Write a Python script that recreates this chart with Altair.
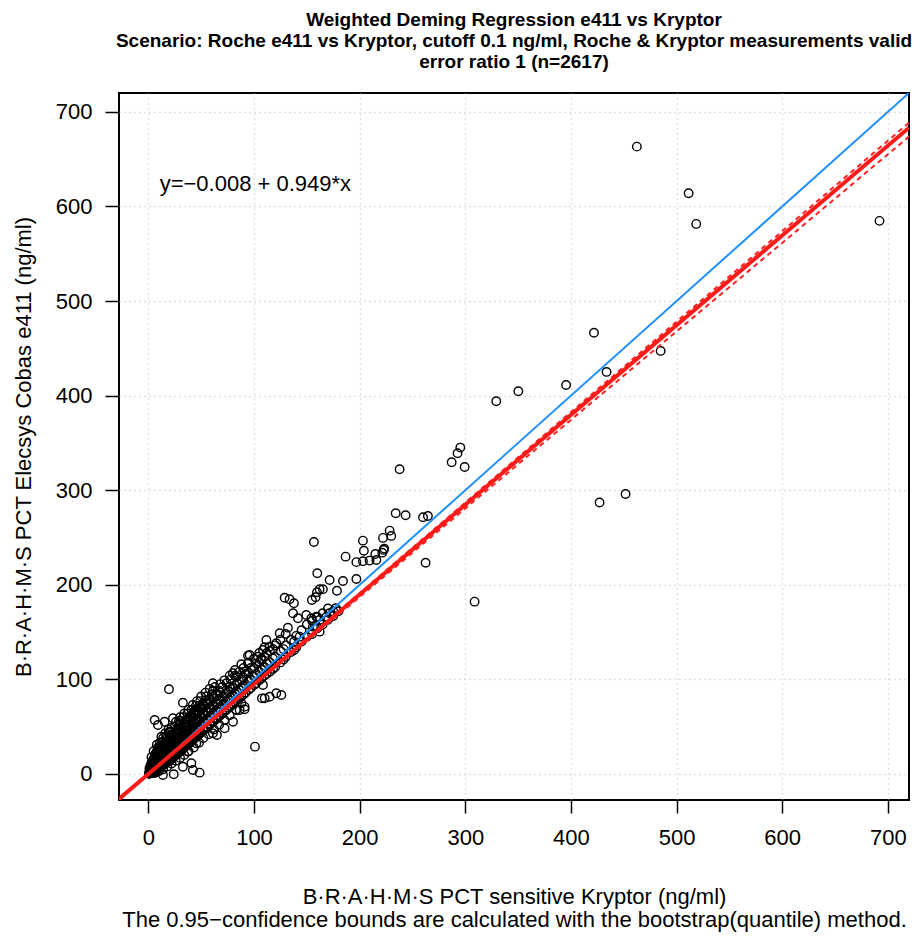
import altair as alt
import pandas as pd

# ---- data ----
title_lines = [
    "Weighted Deming Regression e411 vs Kryptor",
    "Scenario: Roche e411 vs Kryptor, cutoff 0.1 ng/ml, Roche & Kryptor measurements valid",
    "error ratio 1 (n=2617)",
]
x_title = [
    "B·R·A·H·M·S PCT sensitive Kryptor (ng/ml)",
    "The 0.95−confidence bounds are calculated with the bootstrap(quantile) method.",
]
y_title = "B·R·A·H·M·S PCT Elecsys Cobas e411 (ng/ml)"
equation_label = "y=−0.008 + 0.949*x"
tick_values = [0, 100, 200, 300, 400, 500, 600, 700]
axis_domain = [-27.8, 720.0]
y_axis_domain = [-27.5, 720.0]

# regression (intercept, slope)
identity_line = (0.0, 1.0)
fit_line = (-0.008, 0.949)
ci_upper = (0.0, 0.9565)
ci_lower = (-0.02, 0.936)

outlier_points = [
    (462.4, 663.3), (511.4, 614), (518.6, 581.6), (692.1, 584.8),
    (421.8, 466.5), (484.9, 447.3), (433.7, 425.1), (395.4, 411.3), (350.2, 404.7), (329.3, 394.1),
    (237.8, 322.2), (295.3, 345.1), (292.7, 339.1), (287.1, 329.6), (299.4, 324.6),
    (451.7, 296.1), (427.1, 287.1),
    (234.1, 275.7), (243.5, 273.5), (260, 271.4), (264.6, 272.8),
    (228.4, 257.3), (222.1, 249.6), (229.9, 251.7), (223.3, 238.3), (221.4, 234),
    (262.4, 223.4), (308.8, 182.2),
    (156.7, 245.3), (203.1, 246.7), (204, 236.1), (186.7, 229.8),
    (196.9, 224), (203.1, 225), (209.4, 225.6), (215.8, 226.3),
    (214.8, 232.6), (222.7, 236.9), (159.9, 212.2),
    (171.6, 205.1), (184.2, 204.1), (196.9, 206.2),
    (162.1, 195.3), (165.2, 195.3), (159.6, 192.1), (178.5, 193.8),
    (129, 186.4), (133.7, 184.7), (137.8, 180.5), (154.8, 184), (158.3, 186.8),
    (177.3, 175.2), (171.6, 169.9), (168.5, 166.3),
    (136.9, 169.9), (141.6, 164.6), (149.5, 168.1), (154.3, 164.6), (159, 166.3), (162.1, 162.8),
    (132.1, 154.7), (143.2, 145.2), (162.1, 150.5), (155.8, 155.8), (159, 156.5),
    (124.3, 148.8), (121.1, 138.2), (114.8, 134.6), (111.7, 141.7), (108.5, 131.1),
    (103.7, 124), (106.9, 120.5), (95.9, 125.8), (94.3, 117.1), (91.1, 108.2),
    (108.5, 94.1), (114.8, 81.7), (125.9, 83.5), (107.5, 80),
    (88, 74.8), (91.1, 68.4), (83.3, 67.7),
    (80, 106.5), (83.3, 102.9), (76.9, 92.3),
    (19.5, 89.6), (32.7, 75.4), (48.5, 1.4), (24, -0.3), (100.9, 28.9), (94.3, 125.1), (61.1, 95.9),
    (110.1, 80), (121.1, 85.3),
    (86.4, 67.7), (91.1, 71.2), (80.1, 55.3), (72.2, 48.3), (64.9, 41.2), (61.1, 43),
    (6, 57.1), (15.4, 55.3), (9.1, 51.8), (12.3, 39.4), (23.3, 58.9), (29.6, 53.6), (20.1, 44.7),
    (1.2, 0.7), (7.5, 2.4), (13.8, -1),
    (37.5, 23.6), (45.4, 32.5), (40.7, 11.3), (32.7, 7.7), (42.2, 4.2),
]

cluster_points = [
    (1, 0.5), (1, 3), (1, 6),
    (3, 1), (3, 4), (3, 8), (3, 12),
    (5, 3), (5, 7), (5, 11), (5, 16),
    (7, 4), (7, 9), (7, 14), (7, 20),
    (9, 6), (9, 11), (9, 16), (9, 22), (9, 28),
    (11, 7), (11, 13), (11, 19), (11, 25),
    (13, 9), (13, 15), (13, 21), (13, 28), (13, 34),
    (15, 10), (15, 17), (15, 23), (15, 30),
    (17, 12), (17, 19), (17, 26), (17, 33), (17, 40),
    (19, 14), (19, 21), (19, 28), (19, 35),
    (21, 15), (21, 22), (21, 30), (21, 37), (21, 44),
    (23, 17), (23, 24), (23, 32), (23, 40),
    (25, 19), (25, 27), (25, 35), (25, 43), (25, 50),
    (27, 21), (27, 29), (27, 37), (27, 45),
    (29, 23), (29, 31), (29, 39), (29, 48), (29, 56),
    (31, 25), (31, 33), (31, 41), (31, 50),
    (33, 27), (33, 35), (33, 44), (33, 53), (33, 60),
    (35, 29), (35, 37), (35, 46), (35, 55),
    (37, 31), (37, 40), (37, 49), (37, 58), (37, 64),
    (39, 33), (39, 42), (39, 51), (39, 60),
    (41, 35), (41, 44), (41, 53), (41, 62), (41, 68),
    (43, 37), (43, 46), (43, 55), (43, 64),
    (45, 39), (45, 48), (45, 57), (45, 66), (45, 72),
    (47, 41), (47, 50), (47, 59), (47, 68),
    (49, 43), (49, 52), (49, 61), (49, 70), (49, 77),
    (52, 46), (52, 55), (52, 64), (52, 73),
    (55, 49), (55, 58), (55, 67), (55, 76), (55, 82),
    (58, 52), (58, 61), (58, 70), (58, 79),
    (61, 55), (61, 64), (61, 73), (61, 82), (61, 88),
    (64, 58), (64, 67), (64, 76), (64, 85),
    (67, 61), (67, 70), (67, 79), (67, 88),
    (70, 64), (70, 73), (70, 82), (70, 92),
    (74, 68), (74, 77), (74, 86), (74, 96),
    (78, 72), (78, 81), (78, 90), (78, 100),
    (82, 76), (82, 85), (82, 94), (82, 104),
    (86, 80), (86, 89), (86, 98), (86, 108),
    (90, 84), (90, 93), (90, 102), (90, 112),
    (95, 89), (95, 98), (95, 107), (95, 118),
    (100, 94), (100, 103), (100, 112), (100, 122),
    (105, 99), (105, 108), (105, 118), (105, 128),
    (110, 104), (110, 113), (110, 124), (110, 134),
    (115, 108), (115, 118), (115, 130),
    (120, 113), (120, 124), (120, 136),
    (125, 118), (125, 130), (125, 142),
    (130, 124), (130, 136), (130, 148),
    (135, 129), (135, 142), (140, 134), (140, 146),
    (145, 140), (145, 152), (150, 145), (150, 158),
    (160, 154), (160, 166), (170, 163), (170, 175), (180, 172),
]

cluster_fill_points = [
    (2, 2), (2, 5), (2, 9), (4, 3), (4, 6), (4, 10), (4, 14), (6, 4), (6, 8), (6, 12), (6, 17),
    (8, 6), (8, 10), (8, 14), (8, 19), (8, 24), (10, 7), (10, 12), (10, 17), (10, 22),
    (12, 8), (12, 13), (12, 18), (12, 24), (12, 30), (14, 10), (14, 15), (14, 20), (14, 26),
    (16, 11), (16, 17), (16, 22), (16, 29), (18, 13), (18, 18), (18, 24), (18, 31),
    (20, 14), (20, 20), (20, 26), (20, 33), (22, 16), (22, 22), (22, 28), (22, 35),
    (24, 18), (24, 24), (24, 31), (24, 38), (26, 20), (26, 26), (26, 33), (26, 40),
    (28, 22), (28, 28), (28, 35), (28, 43), (30, 24), (30, 30), (30, 38), (30, 46),
    (32, 26), (32, 32), (32, 40), (32, 48), (34, 28), (34, 34), (34, 42), (34, 50),
    (36, 30), (36, 36), (36, 44), (36, 52), (38, 32), (38, 38), (38, 46), (38, 55),
    (40, 34), (40, 40), (40, 48), (40, 57), (42, 36), (42, 42), (42, 51), (42, 60),
    (44, 38), (44, 44), (44, 53), (44, 62), (46, 40), (46, 46), (46, 55), (46, 64),
    (48, 42), (48, 48), (48, 57), (48, 66), (50, 44), (50, 51), (50, 59), (50, 68),
    (53, 47), (53, 54), (53, 62), (53, 71), (56, 50), (56, 57), (56, 65), (56, 74),
    (59, 53), (59, 60), (59, 68), (59, 77), (62, 56), (62, 63), (62, 71), (62, 80),
    (65, 59), (65, 66), (65, 74), (65, 83), (68, 62), (68, 69), (68, 77), (68, 86),
    (72, 66), (72, 73), (72, 82), (76, 70), (76, 78), (76, 87), (80, 74), (80, 82), (80, 91),
    (84, 78), (84, 86), (84, 96), (88, 82), (88, 91), (88, 100), (92, 86), (92, 95), (92, 106),
    (97, 91), (97, 100), (97, 112), (102, 96), (102, 106), (102, 117), (107, 101), (107, 111),
    (107, 122), (112, 106), (112, 117), (112, 128), (118, 111), (118, 122), (118, 132),
    (128, 121), (128, 132), (138, 131), (138, 140), (155, 148), (155, 162), (165, 158),
    (165, 170), (175, 167), (175, 172),
]

# extra points along the upper-left and lower-right edges of the dense cloud
cluster_edge_points = [
    (3, 18), (5, 24), (8, 31), (11, 33), (14, 38), (16, 43), (19, 47), (22, 49), (26, 55),
    (30, 60), (34, 64), (38, 68), (42, 73), (46, 77), (50, 82), (54, 86), (58, 90), (63, 92),
    (68, 95), (72, 99), (77, 104), (82, 110), (88, 116),
    (6, 1), (10, 3), (14, 5), (18, 8), (22, 11), (26, 14), (30, 17), (34, 20), (38, 24),
    (43, 28), (48, 33), (52, 38), (57, 42), (62, 47), (67, 52), (72, 57), (77, 62), (83, 68),
    (2, 1), (3, 2), (4, 1), (6, 2), (8, 3), (0.5, 0.2), (1.5, 1.5),
    (26, 46), (30, 52), (36, 58), (40, 62), (44, 67), (48, 72), (54, 78), (60, 84),
    (18, 38), (22, 42), (14, 32), (10, 27), (7, 22),
]

# ---- tables built from the lists above ----
pts = pd.DataFrame(
    cluster_points + cluster_fill_points + cluster_edge_points + outlier_points,
    columns=["x", "y"],
)


def line_table(coef):
    a, b = coef
    x0, x1 = axis_domain
    return pd.DataFrame({"x": [x0], "x2": [x1], "y": [a + b * x0], "y2": [a + b * x1]})


xs = alt.Scale(domain=axis_domain, nice=False, zero=False)
ys = alt.Scale(domain=y_axis_domain, nice=False, zero=False)

x_axis = alt.Axis(
    values=tick_values, title=x_title, grid=True, domain=False,
    tickSize=13, tickWidth=1.5, tickColor="black",
    labelFontSize=22, labelPadding=14, labelFont="Liberation Sans", labelColor="black",
    titleFontSize=22, titleFont="Liberation Sans", titleFontWeight="normal", titleColor="black",
    titleBaseline="top", titleY=86, titleLineHeight=23,
)
y_axis = alt.Axis(
    values=tick_values, title=y_title, grid=True, domain=False,
    tickSize=14, tickWidth=1.5, tickColor="black",
    labelFontSize=22, labelPadding=13, labelFont="Liberation Sans", labelColor="black",
    titleFontSize=22, titleFont="Liberation Sans", titleFontWeight="normal", titleColor="black",
    titleX=-96, titleY=353.5, titleBaseline="middle",
)

points = alt.Chart(pts).mark_point(
    shape="circle", filled=False, color="black", size=72, strokeWidth=1.4, opacity=1
).encode(
    x=alt.X("x:Q", scale=xs, axis=x_axis),
    y=alt.Y("y:Q", scale=ys, axis=y_axis),
)


def rule(coef, color, width, dash=None):
    kw = dict(color=color, strokeWidth=width, clip=True)
    if dash:
        kw["strokeDash"] = dash
    return alt.Chart(line_table(coef)).mark_rule(**kw).encode(
        x=alt.X("x:Q", scale=xs), x2="x2:Q",
        y=alt.Y("y:Q", scale=ys), y2="y2:Q",
    )


blue = rule(identity_line, "#1e8fff", 2)
red_hi = rule(ci_upper, "#ff2020", 2, [5, 4])
red_lo = rule(ci_lower, "#ff2020", 2, [5, 4])
red = rule(fit_line, "#ff1a1a", 4)

label = alt.Chart(pd.DataFrame({"x": [10.7], "y": [624], "t": [equation_label]})).mark_text(
    align="left", baseline="middle", fontSize=22, font="Liberation Sans", color="black"
).encode(x=alt.X("x:Q", scale=xs), y=alt.Y("y:Q", scale=ys), text="t:N")

chart = alt.layer(points, blue, red_hi, red_lo, red, label).properties(
    width=790,
    height=707,
    autosize=alt.AutoSizeParams(type="none"),
    padding={"left": 111, "top": 85, "right": 7, "bottom": 134},
    title=alt.TitleParams(
        text=title_lines, fontSize=19, fontWeight="bold", font="Liberation Sans",
        anchor="middle", lineHeight=21, offset=21, color="black",
    ),
).configure_view(stroke="black", strokeWidth=2).configure_axis(
    gridColor="#c0c0c0", gridDash=[1, 4], gridWidth=1.3
)

chart.save("out.html", embed_options={"renderer": "svg", "actions": False})
